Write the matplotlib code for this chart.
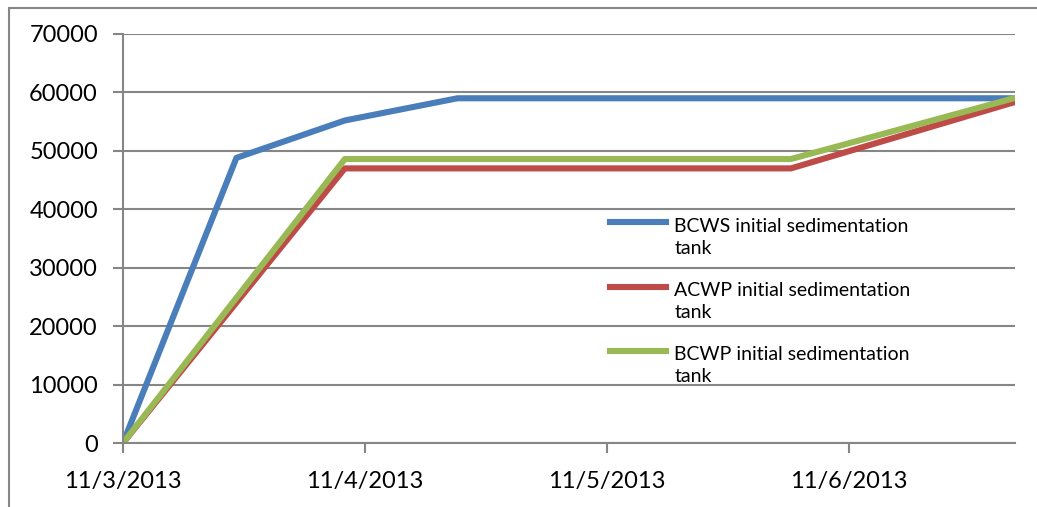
import numpy as np
import pandas as pd
import matplotlib
matplotlib.use("Agg")
import matplotlib.pyplot as plt
import matplotlib.dates as mdates
from matplotlib.patches import Rectangle

plt.rcParams["font.family"] = ["Lato", "DejaVu Sans"]

# values
bcws_t = ["2013-11-03 00:00", "2013-11-03 11:15", "2013-11-03 22:00",
          "2013-11-04 09:10", "2013-11-06 16:20"]
bcws_v = [0, 48800, 55200, 59000, 59000]

acwp_t = ["2013-11-03 00:00", "2013-11-03 22:00", "2013-11-05 18:15", "2013-11-06 16:20"]
acwp_v = [0, 47000, 47000, 58300]

bcwp_t = ["2013-11-03 00:00", "2013-11-03 22:00", "2013-11-05 18:15", "2013-11-06 16:20"]
bcwp_v = [0, 48600, 48600, 59000]

labels = ["BCWS initial sedimentation\ntank",
          "ACWP initial sedimentation\ntank",
          "BCWP initial sedimentation\ntank"]
colors = ["#4A7EBB", "#BE4B48", "#98B954"]

grid_col = "#868686"

fig = plt.figure(figsize=(10.37, 5.07), dpi=100)
ax = fig.add_axes([123 / 1037, 1 - 443 / 507, (1015 - 123) / 1037, (443 - 34) / 507])

for t, v, lab, c in zip([bcws_t, acwp_t, bcwp_t], [bcws_v, acwp_v, bcwp_v], labels, colors):
    ax.plot(pd.to_datetime(t), v, color=c, lw=4.4, label=lab)

ax.set_ylim(0, 70000)
ax.set_yticks(range(0, 70001, 10000))
ax.set_xlim(pd.Timestamp("2013-11-03"), pd.Timestamp("2013-11-06 16:28"))
ax.xaxis.set_major_locator(mdates.DayLocator())
ax.xaxis.set_major_formatter(mdates.DateFormatter("%-m/%-d/%Y"))

ax.grid(axis="y", color=grid_col, lw=1.5)
ax.set_axisbelow(True)
for s in ["top", "right"]:
    ax.spines[s].set_visible(False)
for s in ["left", "bottom"]:
    ax.spines[s].set_color(grid_col)
    ax.spines[s].set_linewidth(1.5)
ax.tick_params(axis="both", direction="out", length=7, width=1.5, color=grid_col,
               labelsize=17, labelcolor="black")
ax.tick_params(axis="y", pad=11)
ax.tick_params(axis="x", pad=13)

leg = ax.legend(loc="upper left", bbox_to_anchor=(610 / 1037, 1 - 218 / 507),
                bbox_transform=fig.transFigure, frameon=False, fontsize=14,
                handlelength=2.9, handletextpad=0.4, labelspacing=1.3,
                borderpad=0, borderaxespad=0)
for txt in leg.get_texts():
    txt.set_linespacing(1.35)
# put the key line next to the first text line, as in the original
for line in leg.get_lines():
    line.set_linewidth(4.4)
    line.set_ydata(np.asarray(line.get_ydata()) + 11)

# outer chart frame
fig.patches.append(Rectangle((9 / 1037, -0.1), 1.2, 1.1 - 8 / 507,
                             transform=fig.transFigure, fill=False,
                             edgecolor=grid_col, lw=1.5))

fig.savefig("out.png", dpi=100)
